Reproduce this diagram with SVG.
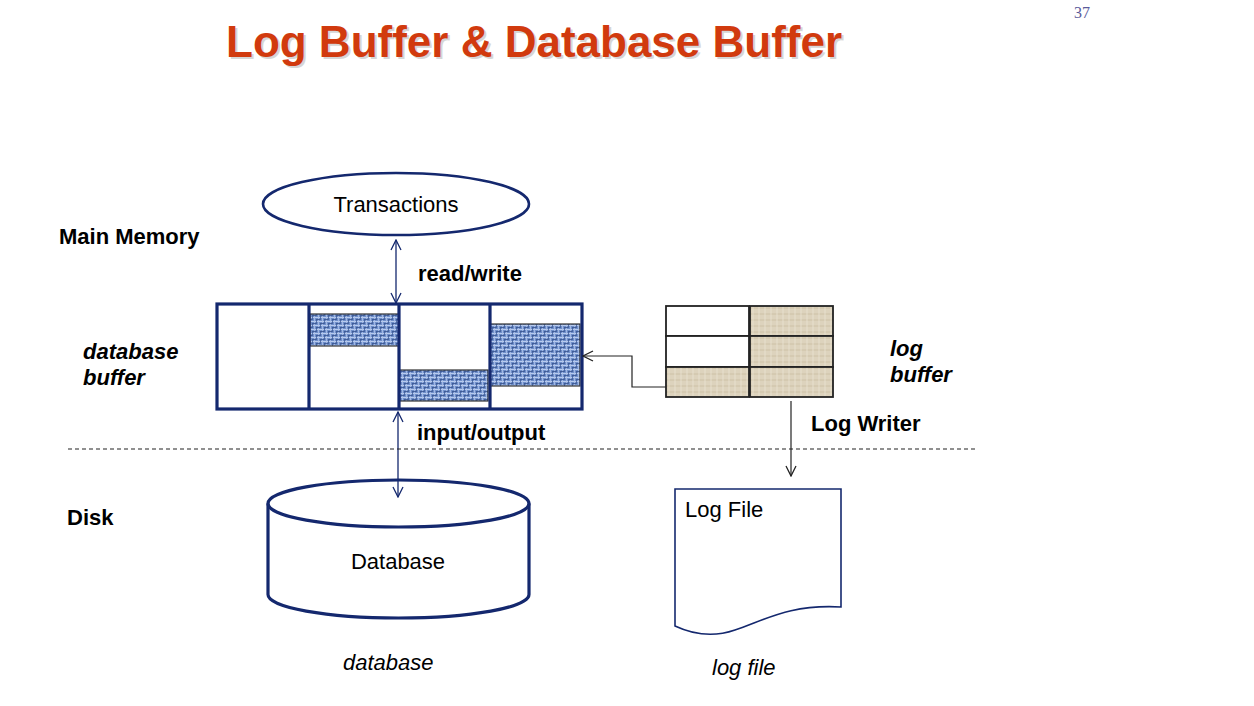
<svg xmlns="http://www.w3.org/2000/svg" width="1254" height="706" viewBox="0 0 1254 706">
<style>
.lbl{font-family:"Liberation Sans",Arial,sans-serif;font-size:22px;fill:#000}
.b{font-weight:bold}
.i{font-style:italic}
.navy{fill:none;stroke:#14286e}
.thin{stroke-width:1.3}
.thick{stroke-width:3.2}
.blue{fill:url(#blueTex);stroke:#333;stroke-width:1.2}
.beige{fill:url(#beigeTex);stroke:#222;stroke-width:1.8}
.white{fill:#fff;stroke:#222;stroke-width:1.8}
</style>
<defs>
<pattern id="blueTex" width="8" height="8" patternUnits="userSpaceOnUse">
<rect width="8" height="8" fill="#6f8fca"/>
<path d="M0 1.5H8M0 5.5H8" stroke="#c2d3f2" stroke-width="0.9"/>
<path d="M2.5 0V8M6.5 0V8" stroke="#aec3ea" stroke-width="0.8"/>
<path d="M0 3.5H4M4 7.5H8" stroke="#324f8c" stroke-width="0.8"/>
<path d="M4.5 0V4M0.5 4V8" stroke="#3d5a96" stroke-width="0.8"/>
</pattern>
<pattern id="beigeTex" width="6" height="6" patternUnits="userSpaceOnUse">
<rect width="6" height="6" fill="#ddd3bd"/>
<path d="M0 2H6" stroke="#c9bd9f" stroke-width="0.8"/>
<path d="M3 0V6" stroke="#eae3d3" stroke-width="0.8"/>
</pattern>
<marker id="openN" viewBox="0 0 12 12" refX="11" refY="6" markerWidth="12" markerHeight="12" markerUnits="userSpaceOnUse" orient="auto-start-reverse">
<path d="M1 1L11 6L1 11" fill="none" stroke="#14286e" stroke-width="1.3"/>
</marker>
<marker id="openK" viewBox="0 0 12 12" refX="11" refY="6" markerWidth="12" markerHeight="12" markerUnits="userSpaceOnUse" orient="auto">
<path d="M1 1L11 6L1 11" fill="none" stroke="#222" stroke-width="1.3"/>
</marker>
</defs>
<rect width="1254" height="706" fill="#fff"/>

<g id="title">
<text x="228" y="59" font-family="Liberation Sans,Arial,sans-serif" font-size="44" font-weight="bold" fill="#bbb" opacity="0.6">Log Buffer &amp; Database Buffer</text>
<text x="226" y="57" font-family="Liberation Sans,Arial,sans-serif" font-size="44" font-weight="bold" fill="#d13a0e">Log Buffer &amp; Database Buffer</text>
</g>
<text id="page" x="1074" y="18" font-family="Liberation Serif,Times New Roman,serif" font-size="16" fill="#5a5a9a">37</text>

<g id="labels">
<text class="lbl b" x="59" y="244">Main Memory</text>
<text class="lbl b i" x="83" y="359">database</text>
<text class="lbl b i" x="83" y="385">buffer</text>
<text class="lbl b i" x="890" y="356">log</text>
<text class="lbl b i" x="890" y="382">buffer</text>
<text class="lbl b" x="811" y="431">Log Writer</text>
<text class="lbl b" x="67" y="525">Disk</text>
<text class="lbl b" x="418" y="281">read/write</text>
<text class="lbl b" x="417" y="440">input/output</text>
<text class="lbl i" x="343" y="670">database</text>
<text class="lbl i" x="712" y="675">log file</text>
</g>

<g id="transactions">
<ellipse class="navy" cx="396" cy="204" rx="133" ry="31" stroke-width="2.6" fill="#fff"/>
<text class="lbl" x="396" y="212" text-anchor="middle">Transactions</text>
</g>

<g id="database-buffer">
<rect x="217" y="304" width="365" height="105" fill="#fff" stroke="none"/>
<rect class="blue" x="310" y="314" width="89" height="32"/>
<rect class="blue" x="399" y="370" width="89" height="31"/>
<rect class="blue" x="490" y="324" width="90" height="62"/>
<rect class="navy thick" x="217" y="304" width="365" height="105"/>
<path class="navy thick" d="M309 304V409M399 304V409M490 304V409"/>
</g>

<g id="log-buffer">
<rect class="white" x="666" y="306" width="83" height="30"/>
<rect class="white" x="666" y="336" width="83" height="31"/>
<rect class="beige" x="666" y="367" width="83" height="30"/>
<rect class="beige" x="750" y="306" width="83" height="30"/>
<rect class="beige" x="750" y="336" width="83" height="31"/>
<rect class="beige" x="750" y="367" width="83" height="30"/>
</g>

<g id="database">
<path class="navy thick" fill="#fff" d="M268 503.5V594.5A130.5 23.5 0 0 0 529 594.5V503.5"/>
<ellipse class="navy thick" cx="398.5" cy="503.5" rx="130.5" ry="23.5" fill="#fff"/>
<text class="lbl" x="398" y="569" text-anchor="middle">Database</text>
</g>

<g id="log-file">
<path class="navy" stroke-width="1.6" fill="#fff" d="M675 489H841V607C790 604 765 620 735 630C712 638 690 633 675 626Z"/>
<text class="lbl" x="685" y="517">Log File</text>
</g>

<g id="connectors">
<line class="navy thin" x1="396" y1="240" x2="396" y2="303" marker-start="url(#openN)" marker-end="url(#openN)"/>
<line class="navy thin" x1="398" y1="412" x2="398" y2="497" marker-start="url(#openN)" marker-end="url(#openN)"/>
<path d="M666 387H632V356H583" fill="none" stroke="#222" stroke-width="1.2" marker-end="url(#openK)"/>
<line x1="791" y1="401" x2="791" y2="476" stroke="#222" stroke-width="1.2" marker-end="url(#openK)"/>
<line x1="68" y1="449" x2="978" y2="449" stroke="#222" stroke-width="1.2" stroke-dasharray="4 3"/>
</g>
</svg>
